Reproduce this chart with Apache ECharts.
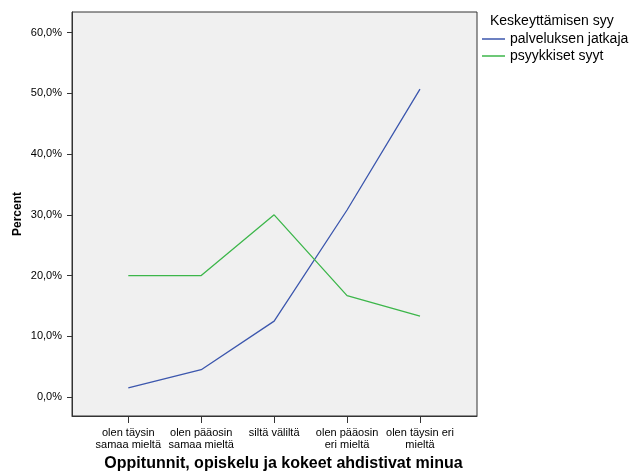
<!DOCTYPE html>
<html>
<head>
<meta charset="utf-8">
<script src="https://cdn.jsdelivr.net/npm/echarts@6/dist/echarts.min.js"></script>
<style>
html,body{margin:0;padding:0;background:#fff;}
#c{width:629px;height:471px;}
</style>
</head>
<body>
<div id="c"></div>
<script>
var categories = [
  'olen täysin\nsamaa mieltä',
  'olen pääosin\nsamaa mieltä',
  'siltä väliltä',
  'olen pääosin\neri mieltä',
  'olen täysin eri\nmieltä'
];
var seriesNames = ['palveluksen jatkaja', 'psyykkiset syyt'];
var palveluksenJatkaja = [1.5, 4.5, 12.5, 30.8, 50.7];
var psyykkisetSyyt = [20.0, 20.0, 30.0, 16.7, 13.3];
var yTicks = [0, 10, 20, 30, 40, 50, 60];
var xTitle = 'Oppitunnit, opiskelu ja kokeet ahdistivat minua';
var yTitle = 'Percent';
var legendTitle = 'Keskeyttämisen syy';

var xIdx = categories.map(function (c, i) { return i; });
function pairs(arr) { return arr.map(function (v, i) { return [i, v]; }); }

var FONT = 'Liberation Sans, Arial, sans-serif';
var chart = echarts.init(document.getElementById('c'), null, {renderer: 'canvas'});
chart.setOption({
  animation: false,
  backgroundColor: '#ffffff',
  textStyle: {fontFamily: FONT, color: '#000'},
  title: {
    text: legendTitle,
    left: 490, top: 14, padding: 0,
    textStyle: {fontFamily: FONT, fontSize: 14, fontWeight: 'normal', color: '#000'}
  },
  legend: {
    orient: 'vertical',
    left: 482, top: 32, padding: 0,
    icon: 'rect',
    itemWidth: 23, itemHeight: 1.5,
    itemGap: 3,
    textStyle: {fontFamily: FONT, fontSize: 14, color: '#000'},
    data: seriesNames
  },
  grid: {
    left: 72, right: 152, top: 12, bottom: 55,
    outerBoundsMode: 'none',
    containLabel: false,
    show: true,
    backgroundColor: '#f0f0f0',
    borderColor: '#333',
    borderWidth: 1
  },
  xAxis: {
    type: 'value',
    min: -0.772, max: 4.782,
    name: xTitle,
    nameLocation: 'middle',
    nameGap: 40,
    nameMoveOverlap: false,
    nameTextStyle: {fontFamily: FONT, fontSize: 16, fontWeight: 'bold', color: '#000', padding: [0, 0, 0, 18]},
    axisLine: {show: true, onZero: false, lineStyle: {color: '#333'}},
    splitLine: {show: false},
    axisTick: {show: true, length: 7, customValues: xIdx, lineStyle: {color: '#333'}},
    axisLabel: {
      customValues: xIdx,
      margin: 11,
      fontFamily: FONT, fontSize: 11, color: '#000', lineHeight: 12,
      formatter: function (v) { return categories[Math.round(v)] || ''; }
    }
  },
  yAxis: {
    type: 'value',
    min: -3.13, max: 63.41,
    name: yTitle,
    nameLocation: 'middle',
    nameGap: 48,
    nameMoveOverlap: false,
    nameRotate: 90,
    nameTextStyle: {fontFamily: FONT, fontSize: 12, fontWeight: 'bold', color: '#000'},
    axisLine: {show: true, onZero: false, lineStyle: {color: '#333'}},
    splitLine: {show: false},
    axisTick: {show: true, length: 5, customValues: yTicks, lineStyle: {color: '#333'}},
    axisLabel: {
      customValues: yTicks,
      margin: 10,
      fontFamily: FONT, fontSize: 11, color: '#000',
      formatter: function (v) { return v.toFixed(1).replace('.', ',') + '%'; }
    }
  },
  series: [
    {
      name: seriesNames[0], type: 'line', symbol: 'none',
      data: pairs(palveluksenJatkaja),
      lineStyle: {color: '#3b56ad', width: 1.3},
      itemStyle: {color: '#3b56ad'}
    },
    {
      name: seriesNames[1], type: 'line', symbol: 'none',
      data: pairs(psyykkisetSyyt),
      lineStyle: {color: '#3cb64a', width: 1.3},
      itemStyle: {color: '#3cb64a'}
    }
  ]
});
</script>
</body>
</html>
